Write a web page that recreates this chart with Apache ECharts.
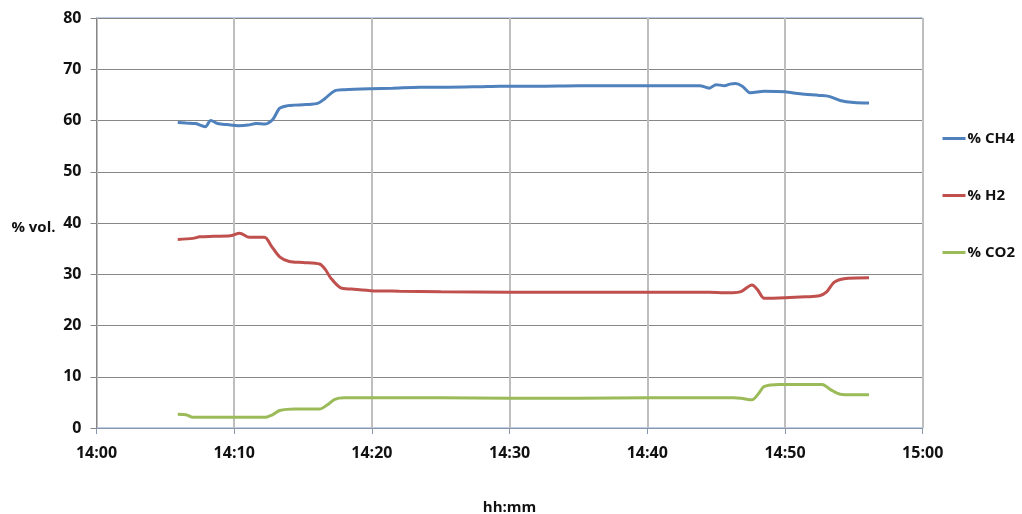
<!DOCTYPE html>
<html>
<head>
<meta charset="utf-8">
<script src="https://cdn.jsdelivr.net/npm/echarts@6/dist/echarts.min.js"></script>
<style>html,body{margin:0;padding:0;background:#fff}#c{width:1022px;height:514px}</style>
</head>
<body>
<div id="c"></div>
<script>
// time in minutes after 14:00
var ch4Time = [5.9, 6.5, 7.2, 7.9, 8.3, 8.8, 9.5, 10.3, 11.0, 11.6, 12.2, 12.8, 13.3, 13.9, 14.4, 15.2, 16.1, 16.6, 17.3, 18.0, 19.9, 21.5, 23.5, 25.5, 27.8, 29.3, 32, 35, 38, 41, 43.8, 44.5, 45.0, 45.6, 46.0, 46.4, 46.9, 47.5, 48.5, 50.0, 51.1, 52.5, 53.2, 54.0, 55.0, 56.1];
var ch4Vals = [59.6, 59.5, 59.4, 58.8, 60.0, 59.4, 59.2, 59.0, 59.1, 59.4, 59.3, 60.2, 62.4, 62.9, 63.0, 63.1, 63.4, 64.3, 65.8, 66.0, 66.2, 66.3, 66.5, 66.5, 66.6, 66.7, 66.7, 66.8, 66.8, 66.8, 66.8, 66.3, 67.0, 66.8, 67.1, 67.2, 66.7, 65.4, 65.7, 65.6, 65.2, 64.9, 64.7, 63.9, 63.5, 63.4];
var h2Time = [5.9, 7.0, 7.5, 8.5, 9.7, 10.4, 11.1, 12.2, 12.7, 13.3, 14.0, 15.0, 16.2, 16.6, 17.0, 17.7, 18.5, 19.9, 22, 25, 30, 35, 40, 44.5, 45.6, 46.2, 46.8, 47.6, 48.0, 48.5, 50.0, 51.5, 52.5, 53.0, 53.6, 54.6, 56.1];
var h2Vals = [36.8, 37.0, 37.3, 37.4, 37.5, 38.0, 37.2, 37.2, 35.5, 33.4, 32.5, 32.3, 32.0, 31.0, 29.3, 27.4, 27.1, 26.8, 26.7, 26.6, 26.5, 26.5, 26.5, 26.5, 26.4, 26.4, 26.6, 27.9, 27.0, 25.3, 25.4, 25.6, 25.8, 26.5, 28.5, 29.2, 29.3];
var co2Time = [5.9, 6.5, 7.0, 9.0, 11.0, 12.2, 12.8, 13.3, 14.4, 15.2, 16.2, 16.8, 17.3, 18.0, 20, 25, 30, 35, 40, 44.5, 45.5, 46.3, 46.8, 47.6, 48.1, 48.5, 49.6, 51.0, 52.7, 53.3, 54.0, 55.0, 56.1];
var co2Vals = [2.7, 2.6, 2.1, 2.1, 2.1, 2.1, 2.6, 3.4, 3.7, 3.7, 3.7, 4.6, 5.6, 5.9, 5.9, 5.9, 5.8, 5.8, 5.9, 5.9, 5.9, 5.9, 5.8, 5.5, 6.8, 8.1, 8.5, 8.5, 8.5, 7.5, 6.6, 6.5, 6.5];
var xTickLabels = ['14:00', '14:10', '14:20', '14:30', '14:40', '14:50', '15:00'];
var seriesNames = ['% CH4', '% H2', '% CO2'];
var colors = ['#4F81BD', '#C0504D', '#9BBB59'];

function pairs(t, v) { return t.map(function (x, i) { return [x, v[i]]; }); }

var font = 'Open Sans';
var chart = echarts.init(document.getElementById('c'));
chart.setOption({
  animation: false,
  color: colors,
  grid: { left: 96.5, right: 99.3, top: 18, bottom: 86, show: true, borderColor: '#7E9CC8', borderWidth: 1, outerBoundsMode: 'none', containLabel: false },
  legend: {
    orient: 'vertical', right: 2, top: 126, itemGap: 42,
    icon: 'rect', itemWidth: 23, itemHeight: 3, itemStyle: { borderWidth: 0 },
    textStyle: { fontFamily: font, fontWeight: 'bold', fontSize: 15, color: '#111', padding: [0, 0, 0, -3] },
    data: seriesNames
  },
  xAxis: {
    type: 'value', min: 0, max: 60, interval: 10,
    name: 'hh:mm', nameLocation: 'middle', nameGap: 72,
    nameTextStyle: { fontFamily: font, fontWeight: 'bold', fontSize: 15, color: '#111' },
    axisLine: { lineStyle: { color: '#8797B0', width: 1 } },
    axisTick: { length: 6, lineStyle: { color: '#8797B0' } },
    axisLabel: { margin: 17, fontFamily: font, fontWeight: 'bold', fontSize: 16, color: '#111',
      formatter: function (v) { return xTickLabels[Math.round(v / 10)]; } },
    splitLine: { show: true, lineStyle: { color: '#BEBEBE', width: 2 } }
  },
  yAxis: {
    type: 'value', min: 0, max: 80, interval: 10,
    name: '% vol.', nameLocation: 'middle', nameGap: 41, nameRotate: 0,
    nameTextStyle: { fontFamily: font, fontWeight: 'bold', fontSize: 15, color: '#111', verticalAlign: 'top', lineHeight: 10 },
    axisLine: { show: true, lineStyle: { color: '#868686', width: 1 } },
    axisTick: { show: true, length: 6, lineStyle: { color: '#868686' } },
    axisLabel: { margin: 15, fontFamily: font, fontWeight: 'bold', fontSize: 16, color: '#111' },
    splitLine: { show: true, lineStyle: { color: '#878787', width: 1 } }
  },
  series: [
    { name: seriesNames[0], type: 'line', data: pairs(ch4Time, ch4Vals), showSymbol: false, smooth: 0.3, lineStyle: { width: 3 } },
    { name: seriesNames[1], type: 'line', data: pairs(h2Time, h2Vals), showSymbol: false, smooth: 0.3, lineStyle: { width: 3 } },
    { name: seriesNames[2], type: 'line', data: pairs(co2Time, co2Vals), showSymbol: false, smooth: 0.3, lineStyle: { width: 3 } }
  ]
});
</script>
</body>
</html>
